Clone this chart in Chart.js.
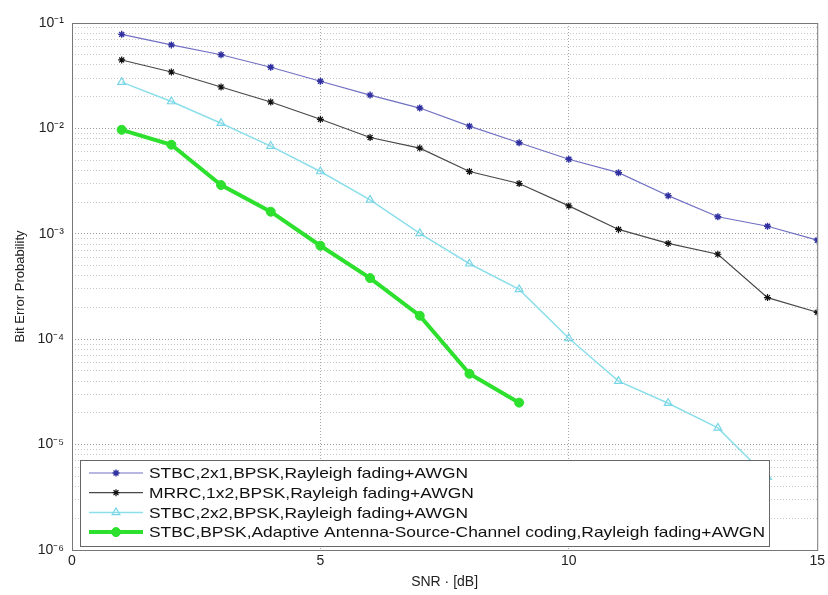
<!DOCTYPE html>
<html>
<head>
<meta charset="utf-8">
<script src="https://cdn.jsdelivr.net/npm/chart.js"></script>
<style>
  html, body { margin: 0; padding: 0; background: #fff; }
  #wrap { width: 828px; height: 595px; }
</style>
</head>
<body>
<div id="wrap"><canvas id="berChart" width="828" height="595"></canvas></div>
<script>
var snr = [1, 2, 3, 4, 5, 6, 7, 8, 9, 10, 11, 12, 13, 14, 15];
var stbc21 = [0.078, 0.062, 0.050, 0.038, 0.028, 0.0207, 0.0156, 0.0105, 0.0073, 0.0051, 0.0038, 0.0023, 0.00145, 0.00118, 0.00087];
var mrrc12 = [0.0446, 0.0343, 0.0247, 0.0178, 0.0122, 0.0082, 0.0065, 0.0039, 0.0030, 0.00184, 0.0011, 0.00081, 0.00064, 0.000248, 0.00018];
var stbc22 = [0.0275, 0.018, 0.0112, 0.0068, 0.0039, 0.0021, 0.00101, 0.00052, 0.000297, 0.000102, 0.00004, 0.0000247, 0.0000144, 0.0000049];
var adaptive = [0.0097, 0.0070, 0.0029, 0.00162, 0.00077, 0.00038, 0.000167, 0.000047, 0.000025];

var seriesNames = [
  'STBC,2x1,BPSK,Rayleigh fading+AWGN',
  'MRRC,1x2,BPSK,Rayleigh fading+AWGN',
  'STBC,2x2,BPSK,Rayleigh fading+AWGN',
  'STBC,BPSK,Adaptive Antenna-Source-Channel coding,Rayleigh fading+AWGN'
];
var xTicks = [0, 5, 10, 15];
var decades = [1e-6, 1e-5, 1e-4, 1e-3, 1e-2, 1e-1];
var decadeLabels = ['10\u207B\u2076', '10\u207B\u2075', '10\u207B\u2074', '10\u207B\u00B3', '10\u207B\u00B2', '10\u207B\u00B9'];
var minorSteps = [2, 3, 4, 5, 6, 7, 8, 9];

function pts(ys) {
  return ys.map(function (y, i) { return { x: snr[i], y: y }; });
}

var datasets = [
  { label: seriesNames[0], data: pts(stbc21), borderColor: '#7070c4', backgroundColor: '#3030a0',
    pointBorderColor: '#3030a0', borderWidth: 1.2, pointStyle: 'star', pointRadius: 3.5, pointBorderWidth: 1.4 },
  { label: seriesNames[1], data: pts(mrrc12), borderColor: '#484848', backgroundColor: '#111',
    pointBorderColor: '#111', borderWidth: 1.2, pointStyle: 'star', pointRadius: 3.5, pointBorderWidth: 1.2 },
  { label: seriesNames[2], data: pts(stbc22), borderColor: '#8cdfea', backgroundColor: 'rgba(0,0,0,0)',
    pointBorderColor: '#7ad6e6', borderWidth: 1.5, pointStyle: 'triangle', pointRadius: 4.5, pointBorderWidth: 1.2 },
  { label: seriesNames[3], data: pts(adaptive), borderColor: '#2ee02e', backgroundColor: '#2ee02e',
    pointBorderColor: '#2ee02e', borderWidth: 4, pointStyle: 'circle', pointRadius: 4.5, pointBorderWidth: 1 }
];

// frame around plot + legend box inside the axes
var framePlugin = {
  id: 'frame',
  afterDraw: function (chart) {
    var ctx = chart.ctx, a = chart.chartArea;
    ctx.save();
    ctx.strokeStyle = '#777';
    ctx.lineWidth = 1;
    ctx.strokeRect(a.left + 0.5, a.top + 0.5, a.right - a.left, a.bottom - a.top);

    // legend
    var bx = 80, by = 460, bw = 689, bh = 86;
    ctx.fillStyle = '#fff';
    ctx.fillRect(bx, by, bw, bh);
    ctx.strokeStyle = '#666';
    ctx.strokeRect(bx + 0.5, by + 0.5, bw, bh);
    ctx.font = '15px "Liberation Sans", Arial, sans-serif';
    ctx.textBaseline = 'middle';
    chart.data.datasets.forEach(function (ds, i) {
      var y = 473 + i * 19.7;
      ctx.strokeStyle = ds.borderColor;
      ctx.lineWidth = ds.borderWidth;
      ctx.beginPath();
      ctx.moveTo(89, y);
      ctx.lineTo(143, y);
      ctx.stroke();
      ctx.fillStyle = ds.backgroundColor;
      ctx.strokeStyle = ds.pointBorderColor;
      ctx.lineWidth = ds.pointBorderWidth;
      if (Chart.helpers && Chart.helpers.drawPoint) {
        Chart.helpers.drawPoint(ctx, { pointStyle: ds.pointStyle, radius: ds.pointRadius, rotation: 0, borderWidth: ds.pointBorderWidth }, 116, y);
      }
      ctx.fillStyle = '#111';
      ctx.save();
      ctx.translate(149, y + 1);
      ctx.scale(1.16, 1);
      ctx.fillText(ds.label, 0, 0);
      ctx.restore();
    });
    ctx.restore();
  }
};

var ctx1 = document.getElementById('berChart').getContext('2d');
var berChart = new Chart(ctx1, {
  type: 'line',
  data: { datasets: datasets },
  plugins: [framePlugin],
  options: {
    responsive: false,
    animation: false,
    layout: { padding: { left: 0, right: 7, top: 23, bottom: 0 } },
    plugins: { legend: { display: false }, tooltip: { enabled: false } },
    elements: { line: { tension: 0 } },
    scales: {
      x: {
        type: 'linear',
        min: 0,
        max: 15,
        afterFit: function (scale) { scale.height = 45; },
        afterBuildTicks: function (scale) {
          scale.ticks = xTicks.map(function (v) { return { value: v }; });
        },
        ticks: { color: '#222', font: { size: 14, family: '"Liberation Sans", Arial, sans-serif' }, padding: 3 },
        grid: {
          color: function (c) { return (c.tick && (c.tick.value === 0 || c.tick.value === 15)) ? 'rgba(0,0,0,0)' : 'rgba(0,0,0,0.35)'; },
          drawTicks: false
        },
        border: { display: false, dash: [1, 2] },
        title: { display: true, text: 'SNR \u00B7 [dB]', color: '#222', font: { size: 14, family: '"Liberation Sans", Arial, sans-serif' }, padding: { top: 0 } }
      },
      y: {
        type: 'logarithmic',
        min: 1e-6,
        max: 1e-1,
        afterFit: function (scale) { scale.width = 72; },
        afterBuildTicks: function (scale) {
          var t = [];
          decades.forEach(function (d, i) {
            t.push({ value: d, major: true });
            if (i < decades.length - 1) {
              minorSteps.forEach(function (m) { t.push({ value: m * d, major: false }); });
            }
          });
          scale.ticks = t;
        },
        ticks: {
          autoSkip: false,
          color: '#222',
          padding: 8,
          font: { size: 14, family: '"Liberation Sans", Arial, sans-serif' },
          callback: function (v) {
            var i = decades.findIndex(function (d) { return Math.abs(d - v) / d < 1e-6; });
            return i >= 0 ? decadeLabels[i] : '';
          }
        },
        grid: {
          color: function (c) {
            if (!c.tick) return 'rgba(0,0,0,0.2)';
            var isDec = decades.some(function (d) { return Math.abs(d - c.tick.value) / d < 1e-6; });
            return isDec ? 'rgba(0,0,0,0.4)' : 'rgba(0,0,0,0.22)';
          },
          drawTicks: false
        },
        border: { display: false, dash: [1, 2] },
        title: { display: true, text: 'Bit Error Probability', color: '#222', font: { size: 13, family: '"Liberation Sans", Arial, sans-serif' }, padding: { top: 13, bottom: 0 } }
      }
    }
  }
});
</script>
</body>
</html>
